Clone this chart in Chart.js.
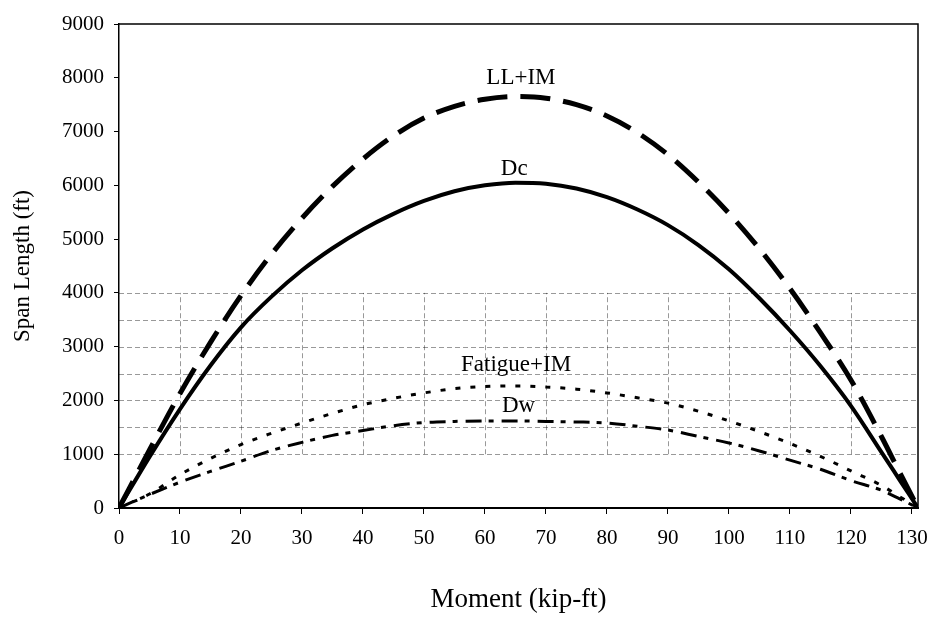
<!DOCTYPE html>
<html>
<head>
<meta charset="utf-8">
<title>Span Length vs Moment</title>
<script src="https://cdn.jsdelivr.net/npm/chart.js@4.4.1/dist/chart.umd.min.js"></script>
<style>
  html, body { margin: 0; padding: 0; background: #fff; }
  canvas { display: block; }
</style>
</head>
<body>
<canvas id="chart" width="935" height="620"></canvas>
<script>
// x values (Moment, kip-ft)
var moment   = [0, 5, 10, 15, 20, 25, 30, 35, 40, 45, 50, 55, 60, 65, 70, 75, 80, 85, 90, 95, 100, 105, 110, 115, 120, 125, 128, 131];
// y values (Span Length, ft) for each curve
var llIm     = [0, 1080, 2130, 3080, 3950, 4720, 5390, 5980, 6490, 6920, 7250, 7470, 7600, 7650, 7620, 7500, 7290, 6980, 6570, 6060, 5480, 4820, 4080, 3260, 2380, 1330, 660, 0];
var dc       = [0, 950, 1840, 2650, 3360, 3930, 4420, 4830, 5180, 5470, 5710, 5890, 6000, 6050, 6030, 5940, 5780, 5550, 5260, 4890, 4440, 3900, 3300, 2640, 1900, 1040, 520, 0];
var fatigue  = [0, 260, 620, 920, 1180, 1390, 1580, 1760, 1920, 2040, 2140, 2220, 2260, 2270, 2250, 2210, 2140, 2050, 1950, 1800, 1620, 1420, 1200, 960, 690, 420, 210, 0];
var dw       = [0, 250, 480, 680, 870, 1070, 1220, 1350, 1440, 1530, 1590, 1610, 1620, 1620, 1610, 1600, 1580, 1520, 1450, 1330, 1210, 1060, 890, 720, 510, 330, 170, 0];

var xTicks = [0, 10, 20, 30, 40, 50, 60, 70, 80, 90, 100, 110, 120, 130];
var yTicks = [0, 1000, 2000, 3000, 4000, 5000, 6000, 7000, 8000, 9000];

// the scan only shows the grid in the lower band
var gridY = [1000, 1500, 2000, 2500, 3000, 3500, 4000];
var gridX = [10, 20, 30, 40, 50, 60, 70, 80, 90, 100, 110, 120];

// curve names written inside the plot
var labelText = ['LL+IM', 'Dc', 'Fatigue+IM', 'Dw'];
var labelX    = [65.9, 64.8, 65.1, 65.5];
var labelY    = [8000, 6310, 2660, 1900];

var SERIF = '"Liberation Serif", "Times New Roman", serif';

function pts(ys) {
  return moment.map(function (m, i) { return { x: m, y: ys[i] }; });
}

var partialGrid = {
  id: 'partialGrid',
  beforeDatasetsDraw: function (chart) {
    var ctx = chart.ctx, xs = chart.scales.x, ys = chart.scales.y, a = chart.chartArea;
    ctx.save();
    ctx.strokeStyle = 'rgba(0,0,0,0.4)';
    ctx.lineWidth = 1;
    ctx.setLineDash([5, 3]);
    gridY.forEach(function (v) {
      var y = Math.round(ys.getPixelForValue(v)) + 0.5;
      ctx.beginPath(); ctx.moveTo(a.left, y); ctx.lineTo(a.right, y); ctx.stroke();
    });
    gridX.forEach(function (v) {
      var x = Math.round(xs.getPixelForValue(v)) + 0.5;
      ctx.beginPath();
      ctx.moveTo(x, ys.getPixelForValue(gridY[0]));
      ctx.lineTo(x, ys.getPixelForValue(gridY[gridY.length - 1]));
      ctx.stroke();
    });
    ctx.restore();
  }
};

var frame = {
  id: 'frame',
  afterDraw: function (chart) {
    var ctx = chart.ctx, a = chart.chartArea;
    ctx.save();
    ctx.strokeStyle = '#000';
    ctx.lineWidth = 1.5;
    ctx.beginPath();
    ctx.moveTo(a.left, a.top);
    ctx.lineTo(a.right, a.top);
    ctx.lineTo(a.right, a.bottom);
    ctx.stroke();
    ctx.restore();
  }
};

var curveLabels = {
  id: 'curveLabels',
  afterDatasetsDraw: function (chart) {
    var ctx = chart.ctx, xs = chart.scales.x, ys = chart.scales.y;
    ctx.save();
    ctx.fillStyle = '#000';
    ctx.font = '23px ' + SERIF;
    ctx.textAlign = 'center';
    ctx.textBaseline = 'middle';
    labelText.forEach(function (t, i) {
      ctx.fillText(t, xs.getPixelForValue(labelX[i]), ys.getPixelForValue(labelY[i]));
    });
    ctx.restore();
  }
};

var common = { pointRadius: 0, fill: false, cubicInterpolationMode: 'monotone', borderColor: '#000', borderCapStyle: 'butt' };

new Chart(document.getElementById('chart'), {
  type: 'line',
  data: {
    datasets: [
      Object.assign({ label: 'LL+IM', data: pts(llIm), borderWidth: 5, borderDash: [30, 13] }, common),
      Object.assign({ label: 'Dc', data: pts(dc), borderWidth: 4 }, common),
      Object.assign({ label: 'Fatigue+IM', data: pts(fatigue), borderWidth: 3, borderDash: [5, 10] }, common),
      Object.assign({ label: 'Dw', data: pts(dw), borderWidth: 3, borderDash: [16, 7, 5, 8] }, common)
    ]
  },
  options: {
    responsive: false,
    animation: false,
    layout: { padding: { top: 24, right: 17, left: 0, bottom: 0 } },
    plugins: { legend: { display: false }, tooltip: { enabled: false } },
    scales: {
      x: {
        type: 'linear',
        min: 0,
        max: 131,
        afterBuildTicks: function (s) { s.ticks = xTicks.map(function (v) { return { value: v }; }); },
        afterFit: function (s) { s.height = 112; s.paddingLeft = 0; s.paddingRight = 0; },
        grid: { drawOnChartArea: false, drawTicks: true, tickLength: 6, color: '#000' },
        border: { display: true, color: '#000', width: 2 },
        ticks: { color: '#000', padding: 12, maxRotation: 0, font: { family: SERIF, size: 21 },
                 callback: function (v) { return String(v); } },
        title: { display: true, text: 'Moment (kip-ft)', color: '#000', padding: { top: 0, bottom: 4 }, font: { family: SERIF, size: 27 } }
      },
      y: {
        min: 0,
        max: 9000,
        afterBuildTicks: function (s) { s.ticks = yTicks.map(function (v) { return { value: v }; }); },
        afterFit: function (s) { s.width = 119; s.paddingTop = 0; s.paddingBottom = 0; },
        grid: { drawOnChartArea: false, drawTicks: true, tickLength: 5, color: '#000' },
        border: { display: true, color: '#000', width: 1.5 },
        ticks: { color: '#000', padding: 10, font: { family: SERIF, size: 21 },
                 callback: function (v) { return String(v); } },
        title: { display: true, text: 'Span Length (ft)', color: '#000', padding: { top: 9, bottom: 0 }, font: { family: SERIF, size: 23 } }
      }
    }
  },
  plugins: [partialGrid, curveLabels, frame]
});
</script>
</body>
</html>
